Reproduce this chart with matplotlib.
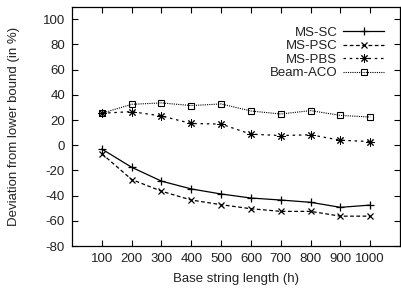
import matplotlib

matplotlib.use("Agg")

import matplotlib.pyplot as plt  # noqa: E402

plt.rcParams["font.family"] = ["Liberation Sans", "DejaVu Sans"]
plt.rcParams["font.size"] = 9.5
plt.rcParams["axes.unicode_minus"] = False

# base string length (h)
lengths = [100, 200, 300, 400, 500, 600, 700, 800, 900, 1000]

# deviation from lower bound (in %)
ms_sc = [-3, -17.5, -28.5, -34.7, -38.7, -41.9, -43.5, -45.3, -49.3, -47.5]
ms_psc = [-6.7, -27.2, -36.5, -43.5, -47.2, -50.4, -52.5, -52.5, -56.3, -56.3]
ms_pbs = [25.4, 26.7, 23.2, 17.3, 16.8, 8.8, 7.7, 8.3, 4.0, 2.9]
beam_aco = [25.4, 32.5, 33.6, 31.5, 32.8, 27.2, 24.8, 27.5, 23.7, 22.4]

y_ticks = list(range(-80, 101, 20))

fig = plt.figure(figsize=(4.01, 2.91), dpi=100)
ax = fig.add_axes((0.1796, 0.1546, 0.818, 0.8224))

ax.plot(lengths, ms_sc, color="black", lw=0.9, ls="-", marker="+", ms=6,
        mew=0.9, label="MS-SC")
ax.plot(lengths, ms_psc, color="black", lw=0.9, ls=(0, (3, 2)), marker="x",
        ms=5, mew=0.9, label="MS-PSC")
ax.plot(lengths, ms_pbs, color="black", lw=0.9, ls=(0, (2, 3)),
        marker=(8, 2, 0), ms=6, mew=0.7, label="MS-PBS")
ax.plot(lengths, beam_aco, color="black", lw=0.8, ls=(0, (1, 1)), marker="s",
        ms=5, mew=0.8, mfc="none", label="Beam-ACO")

ax.set_xlim(0, 1100)
ax.set_ylim(-80, 110)
ax.set_xticks(lengths)
ax.set_yticks(y_ticks)
ax.tick_params(direction="in", top=True, right=True, length=4, width=0.8,
               colors="black", labelcolor="#222222", pad=5)
for s in ax.spines.values():
    s.set_linewidth(0.9)

ax.set_xlabel("Base string length (h)", color="#222222")
ax.set_ylabel("Deviation from lower bound (in %)", color="#222222")
ax.xaxis.set_label_coords(0.5, -0.138)
ax.yaxis.set_label_coords(-0.177, 0.5)
ax.xaxis.label.set_va("center")
ax.yaxis.label.set_va("center")

leg = ax.legend(loc="upper right", bbox_to_anchor=(0.972, 0.945), frameon=False,
                markerfirst=False, handlelength=3.1, handletextpad=0.45,
                labelspacing=0.1, borderpad=0, fontsize=9.5)
for t in leg.get_texts():
    t.set_color("#222222")

fig.savefig("out.png", dpi=100)
